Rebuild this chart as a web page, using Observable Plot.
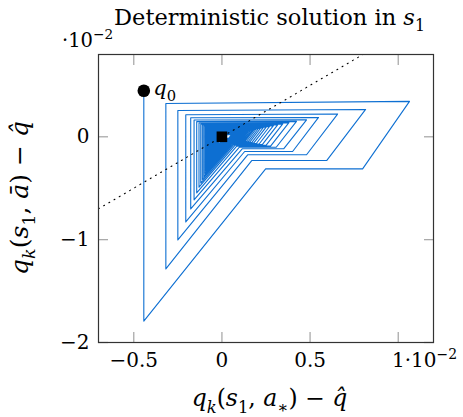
<!DOCTYPE html>
<html><head><meta charset="utf-8">
<script src="https://cdn.jsdelivr.net/npm/d3@7"></script>
<script src="https://cdn.jsdelivr.net/npm/@observablehq/plot@0.6"></script>
<style>body{margin:0;background:#fff} svg{display:block}</style>
</head><body><div id="chart"></div>
<script>
// ---- data (values in units of 10^-2) ----
const xTicks = [-0.5, 0, 0.5, 1];
const yTicks = [-2, -1, 0];
const xDomain = [-0.7, 1.2];
const yDomain = [-2, 0.8];

// trajectory, one entry per loop: vertical at loopXL from loopYT down to loopYB,
// diagonal to kink (loopXK, loopYM), horizontal to loopXR, diagonal to (loopXTR, loopYTR)
const loopXL  = [-0.443,-0.318,-0.250,-0.205,-0.177,-0.158,-0.143,-0.130,-0.120,-0.111,-0.103,-0.096,-0.090,-0.084,-0.079,-0.074,-0.070,-0.066,-0.062,-0.058,-0.055,-0.052,-0.049,-0.046,-0.043,-0.040,-0.038,-0.036,-0.034,-0.032,-0.030,-0.028,-0.026,-0.024,-0.022,-0.020];
const loopYT  = [0.448,0.324,0.256,0.214,0.185,0.163,0.147,0.134,0.123,0.114,0.106,0.099,0.092,0.086,0.081,0.076,0.072,0.068,0.064,0.060,0.056,0.053,0.050,0.047,0.044,0.041,0.039,0.037,0.035,0.033,0.031,0.029,0.027,0.025,0.023,0.021];
const loopYB  = [-1.792,-1.285,-1.003,-0.828,-0.701,-0.613,-0.545,-0.490,-0.450,-0.415,-0.385,-0.358,-0.334,-0.312,-0.293,-0.274,-0.259,-0.244,-0.229,-0.214,-0.203,-0.192,-0.181,-0.170,-0.159,-0.148,-0.140,-0.133,-0.125,-0.118,-0.111,-0.103,-0.096,-0.089,-0.081,-0.074];
const loopXK  = [0.248,0.169,0.146,0.129,0.115,0.098,0.084,0.074,0.067,0.062,0.057,0.053,0.049,0.046,0.043,0.040,0.038,0.036,0.034,0.031,0.030,0.028,0.027,0.025,0.024,0.022,0.020,0.020,0.018,0.017,0.016,0.015,0.014,0.013,0.011,0.010];
const loopYM  = [-0.312,-0.231,-0.175,-0.143,-0.117,-0.102,-0.091,-0.083,-0.076,-0.070,-0.065,-0.060,-0.056,-0.052,-0.049,-0.046,-0.043,-0.040,-0.038,-0.036,-0.034,-0.032,-0.030,-0.028,-0.026,-0.025,-0.024,-0.022,-0.021,-0.020,-0.019,-0.018,-0.017,-0.016,-0.015,-0.014];
const loopXR  = [0.798,0.594,0.480,0.401,0.350,0.308,0.276,0.250,0.229,0.211,0.195,0.181,0.169,0.158,0.148,0.139,0.131,0.124,0.117,0.110,0.104,0.098,0.093,0.087,0.082,0.076,0.072,0.068,0.064,0.060,0.057,0.053,0.049,0.046,0.042,0.038];
const loopXTR = [1.064,0.815,0.656,0.548,0.480,0.423,0.380,0.345,0.316,0.292,0.270,0.251,0.234,0.219,0.206,0.193,0.182,0.172,0.162,0.152,0.144,0.136,0.128,0.120,0.113,0.106,0.100,0.094,0.089,0.084,0.079,0.074,0.069,0.064,0.059,0.054];
const loopYTR = [0.344,0.266,0.221,0.188,0.165,0.150,0.137,0.125,0.116,0.108,0.100,0.094,0.088,0.083,0.078,0.073,0.069,0.065,0.061,0.057,0.054,0.051,0.048,0.045,0.042,0.040,0.038,0.036,0.034,0.032,0.030,0.028,0.026,0.024,0.022,0.020];

const diagX = [-0.7, 0.8];     // dotted line y = x
const diagY = [-0.7, 0.8];
const startX = [-0.443];       // q0
const startY = [0.448];
const fixX = [0];              // fixed point
const fixY = [0];

// ---- tables built from the arrays ----
const path = [];
loopXL.forEach((_, k) => {
  path.push({x: loopXL[k], y: loopYT[k]});
  path.push({x: loopXL[k], y: loopYB[k]});
  path.push({x: loopXK[k], y: loopYM[k]});
  path.push({x: loopXR[k], y: loopYM[k]});
  path.push({x: loopXTR[k], y: loopYTR[k]});
});
const diag = diagX.map((x, i) => ({x, y: diagY[i]}));
const start = startX.map((x, i) => ({x, y: startY[i]}));
const fix = fixX.map((x, i) => ({x, y: fixY[i]}));

const font = "DejaVu Serif";
const fs = 20;
const blue = "#0d6fd2";
const fmt = d => (d < 0 ? "−" : "") + Math.abs(d);

const chart = Plot.plot({
  width: 463, height: 417,
  marginLeft: 98, marginRight: 30, marginTop: 54, marginBottom: 75,
  style: {fontFamily: font, fontSize: fs + "px", background: "#fff", color: "#000"},
  x: {domain: xDomain},
  y: {domain: yDomain},
  marks: [
    Plot.line(path, {x: "x", y: "y", stroke: blue, strokeWidth: 1.1}),
    Plot.line(diag, {x: "x", y: "y", stroke: "#000", strokeWidth: 1.1, strokeDasharray: "1 5"}),
    Plot.dot(start, {x: "x", y: "y", r: 6.3, fill: "#000", stroke: null}),
    Plot.dot(fix, {x: "x", y: "y", r: 6, symbol: "square", fill: "#000", stroke: null}),
    Plot.axisX(xTicks, {anchor: "bottom", tickSize: -10, stroke: "#aaa", strokeWidth: 1.3, fill: "none", label: null}),
    Plot.axisX(xTicks, {anchor: "top", tickSize: -10, stroke: "#aaa", strokeWidth: 1.3, fill: "none", label: null}),
    Plot.axisY(yTicks, {anchor: "left", tickSize: -10, stroke: "#aaa", strokeWidth: 1.3, fill: "none", label: null}),
    Plot.axisY(yTicks, {anchor: "right", tickSize: -10, stroke: "#aaa", strokeWidth: 1.3, fill: "none", label: null}),
    Plot.axisX(xTicks, {anchor: "bottom", tickSize: 0, tickPadding: 10, label: null, fill: "#000", tickFormat: fmt}),
    Plot.axisY(yTicks, {anchor: "left", tickSize: 0, tickPadding: 9, label: null, fill: "#000", tickFormat: fmt}),
    Plot.frame({stroke: "#333", strokeWidth: 1.2})
  ]
});
document.getElementById("chart").append(chart);

// ---- rich text (sub/superscripts) ----
const svg = d3.select(chart);
const sx = chart.scale("x"), sy = chart.scale("y");
function rich(x, y, parts, {size = fs, anchor = "middle", rotate = 0} = {}) {
  const t = svg.append("text")
    .attr("font-family", font).attr("font-size", size)
    .attr("text-anchor", anchor).attr("fill", "#000");
  if (rotate) t.attr("transform", `translate(${x},${y}) rotate(${rotate})`);
  else t.attr("x", x).attr("y", y);
  let shift = 0;
  for (const p of parts) {
    const target = p.sub ? size * 0.28 : p.sup ? -size * 0.42 : 0;
    const ts = t.append("tspan").text(p.t).attr("dy", target - shift);
    shift = target;
    if (p.sub || p.sup) ts.attr("font-size", size * 0.7);
    if (p.it) ts.attr("font-style", "italic");
  }
  return t;
}
const midX = (98 + 463 - 30) / 2;
const midY = (54 + 417 - 75) / 2;

rich(midX + 4, 25, [{t: "Deterministic solution in "}, {t: "s", it: true}, {t: "1", sub: true}], {size: 22.5});
rich(62, 47, [{t: "·10"}, {t: "−2", sup: true}], {anchor: "start", size: 19.5});
rich(sx.apply(1) + 7, 367, [{t: "·10"}, {t: "−2", sup: true}], {anchor: "start", size: 20});
rich(sx.apply(startX[0]) + 10, sy.apply(startY[0]) + 5, [{t: "q", it: true}, {t: "0", sub: true}], {anchor: "start", size: 21});
rich(midX + 4, 406, [
  {t: "q", it: true}, {t: "k", sub: true, it: true}, {t: "("}, {t: "s", it: true}, {t: "1", sub: true},
  {t: ", "}, {t: "a", it: true}, {t: "∗", sub: true}, {t: ") − "}, {t: "q̂", it: true}
], {size: 23.5});
rich(28, midY, [
  {t: "q", it: true}, {t: "k", sub: true, it: true}, {t: "("}, {t: "s", it: true}, {t: "1", sub: true},
  {t: ", "}, {t: "ā", it: true}, {t: ") − "}, {t: "q̂", it: true}
], {rotate: -90, size: 25});
</script>
</body></html>
